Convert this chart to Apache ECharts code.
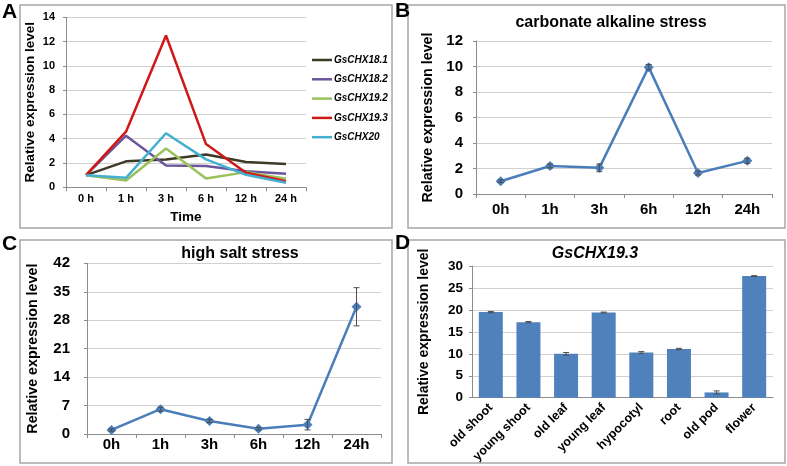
<!DOCTYPE html>
<html>
<head>
<meta charset="utf-8">
<script src="https://cdn.jsdelivr.net/npm/echarts@6/dist/echarts.min.js"></script>
<style>html,body{margin:0;padding:0;background:#fff}#c{width:787px;height:466px}</style>
</head>
<body>
<div id="c"></div>
<script>
// ---- Data ----
const timeCatsA = ['0 h', '1 h', '3 h', '6 h', '12 h', '24 h'];
const timeCats = ['0h', '1h', '3h', '6h', '12h', '24h'];
const geneNames = ['GsCHX18.1', 'GsCHX18.2', 'GsCHX19.2', 'GsCHX19.3', 'GsCHX20'];
const gsCHX18_1 = [1, 2.14, 2.28, 2.7, 2.08, 1.92];
const gsCHX18_2 = [1, 4.25, 1.8, 1.75, 1.33, 1.11];
const gsCHX19_2 = [1, 0.56, 3.2, 0.72, 1.25, 0.7];
const gsCHX19_3 = [1, 4.58, 12.5, 3.56, 1.2, 0.5];
const gsCHX20 = [1, 0.78, 4.45, 2.3, 1.03, 0.37];
const alkaline = [1.0, 2.2, 2.05, 9.95, 1.65, 2.6];
const alkalineErr = [0.1, 0.15, 0.3, 0.2, 0.15, 0.2];
const salt = [1.0, 6.1, 3.2, 1.3, 2.3, 31.3];
const saltErr = [0.3, 0.5, 0.4, 0.3, 1.3, 4.7];
const tissues = ['old shoot', 'young shoot', 'old leaf', 'young leaf', 'hypocotyl', 'root', 'old pod', 'flower'];
const tissueExpr = [19.5, 17.2, 10.0, 19.4, 10.3, 11.1, 1.2, 27.7];
const tissueErr = [0.15, 0.15, 0.3, 0.1, 0.2, 0.15, 0.35, 0.1];

// ---- Styles ----
const FF = '"Liberation Sans", Arial, sans-serif';
const geneColors = ['#3d3a26', '#6b569b', '#9bc15b', '#d01818', '#45afd0'];
const blue = '#4a7ebb';
const axisGray = '#8c8c8c';
const gridGray = '#d0d0d0';
const yName = 'Relative expression level';

function errSeries(xi, yi, vals, errs, z) {
  return {
    type: 'custom', xAxisIndex: xi, yAxisIndex: yi, z: z || 5, silent: true,
    data: vals.map((v, i) => [i, v, errs[i]]),
    encode: { x: 0, y: 1 },
    renderItem: function (params, api) {
      const i = api.value(0), v = api.value(1), e = api.value(2);
      const t = api.coord([i, v + e]), b = api.coord([i, v - e]);
      const w = 3, st = { stroke: '#4d4d4d', lineWidth: 1 };
      return { type: 'group', children: [
        { type: 'line', shape: { x1: t[0], y1: t[1], x2: b[0], y2: b[1] }, style: st },
        { type: 'line', shape: { x1: t[0] - w, y1: t[1], x2: t[0] + w, y2: t[1] }, style: st },
        { type: 'line', shape: { x1: b[0] - w, y1: b[1], x2: b[0] + w, y2: b[1] }, style: st }
      ]};
    }
  };
}

function catAxis(gi, cats, fs, margin, extra) {
  return Object.assign({
    type: 'category', gridIndex: gi, data: cats, boundaryGap: true,
    axisLine: { lineStyle: { color: axisGray, width: 1 } },
    axisTick: { show: true, length: 4, lineStyle: { color: axisGray } },
    axisLabel: { color: '#000', fontFamily: FF, fontWeight: 'bold', fontSize: fs, margin: margin, interval: 0 }
  }, extra || {});
}
function valAxis(gi, max, interval, fs, margin, nameGap, nameFs) {
  return {
    type: 'value', gridIndex: gi, min: 0, max: max, interval: interval,
    name: yName, nameLocation: 'middle', nameGap: nameGap,
    nameTextStyle: { color: '#000', fontFamily: FF, fontWeight: 'bold', fontSize: nameFs },
    axisLine: { show: true, lineStyle: { color: axisGray, width: 1 } },
    axisTick: { show: true, length: 3, lineStyle: { color: axisGray } },
    splitLine: { lineStyle: { color: gridGray, width: 1 } },
    axisLabel: { color: '#000', fontFamily: FF, fontWeight: 'bold', fontSize: fs, margin: margin }
  };
}

const chart = echarts.init(document.getElementById('c'), null, { renderer: 'canvas' });

const linesA = [gsCHX18_1, gsCHX18_2, gsCHX19_2, gsCHX19_3, gsCHX20].map((d, k) => ({
  name: geneNames[k], type: 'line', xAxisIndex: 0, yAxisIndex: 0, data: d,
  showSymbol: false, symbol: 'none', smooth: false,
  lineStyle: { color: geneColors[k], width: 2.5 }, itemStyle: { color: geneColors[k] }
}));

const borderStyle = { stroke: '#a6a6a6', fill: 'none', lineWidth: 1.5 };
function letter(t, x, y) {
  return { type: 'text', left: x, top: y, style: { text: t, font: 'bold 21px ' + FF, fill: '#000' } };
}
function box(x, y, w, h) {
  return { type: 'rect', shape: { x: x, y: y, width: w, height: h }, style: borderStyle, silent: true };
}
function ttl(t, cx, cy, italic) {
  return { type: 'text', x: cx, y: cy, style: { text: t, font: (italic ? 'italic ' : '') + 'bold 16px ' + FF, fill: '#000', textAlign: 'center', textVerticalAlign: 'middle' } };
}

chart.setOption({
  animation: false,
  backgroundColor: '#fff',
  grid: [
    { left: 66, top: 17.3, width: 240, height: 170 },
    { left: 476, top: 41, width: 296, height: 153 },
    { left: 87, top: 263.3, width: 294, height: 170.7 },
    { left: 472, top: 266, width: 301, height: 131.7 }
  ],
  legend: {
    data: geneNames, orient: 'vertical', left: 307, top: 50,
    icon: 'rect', itemWidth: 20, itemHeight: 2.5, itemGap: 9.3,
    textStyle: { fontFamily: FF, fontWeight: 'bold', fontStyle: 'italic', fontSize: 10, color: '#000', padding: [0, 0, 0, -3] }
  },
  xAxis: [
    catAxis(0, timeCatsA, 11, 6, {
      name: 'Time', nameLocation: 'middle', nameGap: 23,
      nameTextStyle: { color: '#000', fontFamily: FF, fontWeight: 'bold', fontSize: 13.5 }
    }),
    catAxis(1, timeCats, 15, 8),
    catAxis(2, timeCats, 15, 3),
    catAxis(3, tissues, 12.5, 8, { axisTick: { show: false }, axisLabel: { color: '#000', fontFamily: FF, fontWeight: 'bold', fontSize: 12.5, margin: 8, interval: 0, rotate: 45 } })
  ],
  yAxis: [
    valAxis(0, 14, 2, 11, 11, 29, 13.5),
    valAxis(1, 12, 2, 15, 13, 41, 14.3),
    valAxis(2, 42, 7, 15, 17, 47, 14.3),
    valAxis(3, 30, 5, 13.5, 9, 41, 14)
  ],
  series: linesA.concat([
    { type: 'line', xAxisIndex: 1, yAxisIndex: 1, data: alkaline, symbol: 'diamond', symbolSize: 10,
      lineStyle: { color: blue, width: 2.5 }, itemStyle: { color: blue }, z: 3 },
    errSeries(1, 1, alkaline, alkalineErr, 4),
    { type: 'line', xAxisIndex: 2, yAxisIndex: 2, data: salt, symbol: 'diamond', symbolSize: 10,
      lineStyle: { color: blue, width: 2.5 }, itemStyle: { color: blue }, z: 3 },
    errSeries(2, 2, salt, saltErr, 4),
    { type: 'bar', xAxisIndex: 3, yAxisIndex: 3, data: tissueExpr, barWidth: 24,
      itemStyle: { color: '#4f81bd' }, z: 2 },
    errSeries(3, 3, tissueExpr, tissueErr, 4)
  ]),
  graphic: [
    box(20, 5, 372, 223),
    box(408, 5, 377, 223),
    box(20, 240, 372, 223),
    box(408, 240, 377, 223),
    letter('A', 2, 2),
    letter('B', 395, 1),
    letter('C', 2, 234),
    letter('D', 395, 233),
    ttl('carbonate alkaline stress', 611, 23, false),
    ttl('high salt stress', 240, 254, false),
    ttl('GsCHX19.3', 595, 254, true)
  ]
});
</script>
</body>
</html>
